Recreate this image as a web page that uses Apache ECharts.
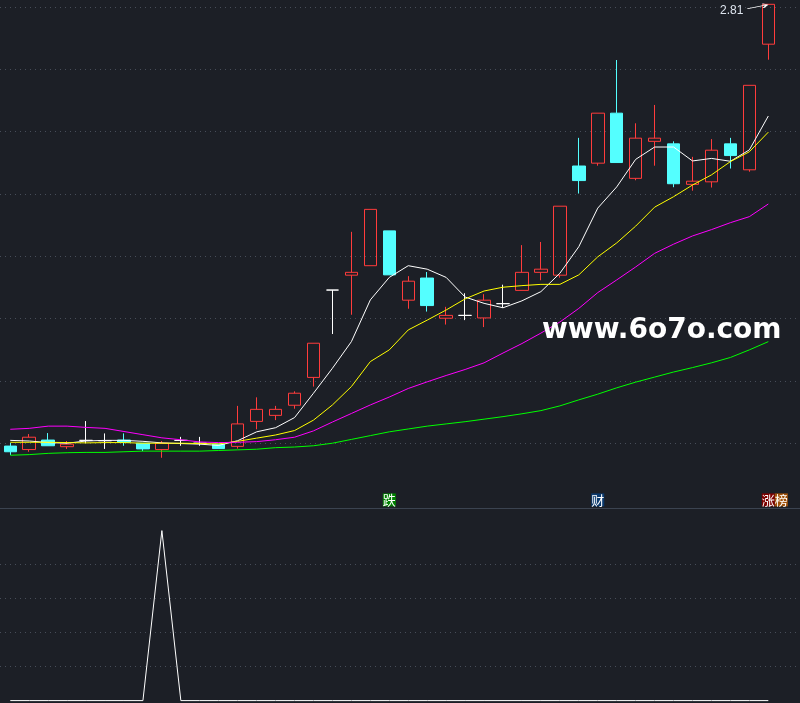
<!DOCTYPE html>
<html><head><meta charset="utf-8">
<script src="https://cdn.jsdelivr.net/npm/echarts@6/dist/echarts.min.js"></script>
<style>html,body{margin:0;padding:0;background:#1c1f26;}#c{width:800px;height:703px;}</style>
</head><body><div id="c"></div><script>
// ---- data ----
const days = ['1','2','3','4','5','6','7','8','9','10','11','12','13','14','15','16','17','18','19','20','21','22','23','24','25','26','27','28','29','30','31','32','33','34','35','36','37','38','39','40','41'];
const opens  = [1.414,1.403,1.433,1.412,1.432,1.431,1.433,1.423,1.403,1.432,1.423,1.420,1.413,1.492,1.511,1.543,1.631,1.907,1.954,1.984,2.094,1.875,1.945,1.818,1.827,1.819,1.864,1.906,1.963,1.954,2.299,2.308,2.466,2.260,2.377,2.369,2.241,2.249,2.369,2.287,2.684];
const closes = [1.396,1.442,1.415,1.420,1.432,1.431,1.426,1.405,1.423,1.432,1.423,1.406,1.484,1.530,1.530,1.581,1.739,1.907,1.963,2.162,1.955,1.935,1.858,1.827,1.827,1.875,1.864,1.963,1.973,2.172,2.253,2.466,2.310,2.387,2.387,2.243,2.251,2.349,2.332,2.554,2.810];
const lows   = [1.386,1.396,1.415,1.405,1.423,1.405,1.415,1.398,1.377,1.415,1.415,1.406,1.406,1.467,1.496,1.532,1.602,1.768,1.829,1.984,1.955,1.848,1.839,1.798,1.812,1.790,1.851,1.906,1.938,1.946,2.212,2.300,2.310,2.254,2.300,2.232,2.221,2.231,2.291,2.281,2.635];
const highs  = [1.424,1.452,1.455,1.430,1.493,1.454,1.454,1.423,1.430,1.443,1.443,1.420,1.541,1.568,1.541,1.587,1.739,1.907,2.091,2.162,2.094,1.951,1.964,1.854,1.897,1.894,1.924,2.049,2.059,2.172,2.388,2.466,2.634,2.434,2.492,2.377,2.328,2.384,2.388,2.554,2.810];
const ma5  = [1.432,1.430,1.425,1.423,1.430,1.432,1.432,1.429,1.424,1.422,1.420,1.416,1.431,1.459,1.472,1.504,1.581,1.660,1.744,1.876,1.947,1.984,1.973,1.947,1.885,1.865,1.851,1.873,1.902,1.960,2.044,2.166,2.233,2.320,2.359,2.359,2.315,2.323,2.314,2.350,2.457];
const ma10 = [1.426,1.426,1.426,1.425,1.424,1.425,1.425,1.423,1.423,1.423,1.422,1.421,1.429,1.439,1.449,1.463,1.496,1.544,1.602,1.681,1.718,1.781,1.812,1.844,1.879,1.904,1.916,1.921,1.925,1.925,1.955,2.012,2.056,2.109,2.169,2.202,2.239,2.271,2.313,2.344,2.406];
const ma20 = [1.467,1.470,1.477,1.477,1.473,1.470,1.460,1.450,1.440,1.434,1.427,1.425,1.426,1.428,1.434,1.442,1.462,1.490,1.517,1.544,1.569,1.596,1.617,1.637,1.656,1.677,1.708,1.738,1.771,1.806,1.849,1.899,1.939,1.980,2.023,2.052,2.078,2.098,2.120,2.139,2.179];
const ma60 = [1.385,1.387,1.391,1.393,1.394,1.394,1.396,1.398,1.398,1.398,1.398,1.400,1.402,1.404,1.409,1.411,1.415,1.423,1.435,1.447,1.459,1.468,1.477,1.484,1.491,1.499,1.507,1.516,1.526,1.541,1.560,1.578,1.598,1.616,1.632,1.648,1.662,1.677,1.694,1.718,1.744];
const indicator = [0,0,0,0,0,0,0,0,5,0,0,0,0,0,0,0,0,0,0,0,0,0,0,0,0,0,0,0,0,0,0,0,0,0,0,0,0,0,0,0,0];
const signals = ['','','','','','','','','','','','','','','','','','','','','跌','','','','','','','','','','','财','','','','','','','','','涨榜'];
const priceMin = 1.2265, priceMax = 2.8015;

// ---- styles ----
const BG = '#1c1f26';
const RED = '#ff3c3c', CYAN = '#54ffff';
const gridLine = {color:'#474d59', type:[1,4], width:1};
const signalStyle = {'跌':'{d|跌}', '财':'{c|财}', '涨榜':'{sp|榜}{z|涨}{b|榜}'};
const cjk = 'Noto Sans CJK SC';
const richBase = {color:'#ffffff', fontSize:13, lineHeight:13, height:13, fontFamily:cjk};

const candleData = opens.map((o, i) => {
  const item = {value:[o, closes[i], lows[i], highs[i]]};
  if (o === closes[i]) item.itemStyle = {borderColor:'#ffffff', borderColor0:'#ffffff', borderColorDoji:'#ffffff'};
  return item;
});
const maxIdx = highs.indexOf(Math.max.apply(null, highs));

const chart = echarts.init(document.getElementById('c'));
chart.setOption({
  backgroundColor: BG,
  animation: false,
  tooltip: {show:false},
  grid: [
    {left:0, right:0, top:7, height:498.4, outerBoundsMode:'none'},
    {left:0.8, width:777, top:7, height:498.4, outerBoundsMode:'none'},
    {left:0, right:0, top:530.6, height:170, outerBoundsMode:'none'},
    {left:0.8, width:777, top:530.6, height:170, outerBoundsMode:'none'}
  ],
  xAxis: [
    {gridIndex:0, type:'value', min:0, max:1, show:false},
    {gridIndex:1, type:'category', data:days, boundaryGap:true,
      axisLine:{show:false}, axisTick:{show:false}, splitLine:{show:false},
      axisLabel:{show:true, interval:0, inside:true, margin:-1, hideOverlap:false,
        formatter:(v, i) => signalStyle[signals[i]] || '',
        rich:{
          d:Object.assign({}, richBase, {backgroundColor:'#008000'}),
          c:Object.assign({}, richBase, {backgroundColor:'#0b3a6e'}),
          z:Object.assign({}, richBase, {backgroundColor:'#7d0000'}),
          b:Object.assign({}, richBase, {backgroundColor:'#a0520a'}),
          sp:Object.assign({}, richBase, {color:'rgba(0,0,0,0)'})
        }}},
    {gridIndex:2, type:'value', min:0, max:1, show:false},
    {gridIndex:3, type:'category', data:days, boundaryGap:true, show:false}
  ],
  yAxis: [
    {gridIndex:0, type:'value', min:0, max:8, interval:1, axisLine:{show:false}, axisTick:{show:false}, axisLabel:{show:false},
      splitLine:{show:true, showMinLine:false, showMaxLine:true, lineStyle:gridLine}},
    {gridIndex:1, type:'value', min:priceMin, max:priceMax, show:false, splitLine:{show:false}},
    {gridIndex:2, type:'value', min:0, max:5, interval:1, axisLine:{show:false}, axisTick:{show:false}, axisLabel:{show:false},
      splitLine:{show:true, showMinLine:false, showMaxLine:false, lineStyle:gridLine}},
    {gridIndex:3, type:'value', min:0, max:5, show:false, splitLine:{show:false}}
  ],
  series: [
    {type:'candlestick', xAxisIndex:1, yAxisIndex:1, data:candleData, barWidth:13, clip:false, silent:true,
      itemStyle:{color:'rgba(0,0,0,0)', color0:CYAN, borderColor:RED, borderColor0:CYAN, borderWidth:1}},
    {type:'line', xAxisIndex:1, yAxisIndex:1, data:ma5,  symbol:'none', silent:true, lineStyle:{color:'#ffffff', width:1}},
    {type:'line', xAxisIndex:1, yAxisIndex:1, data:ma10, symbol:'none', silent:true, lineStyle:{color:'#ffff00', width:1}},
    {type:'line', xAxisIndex:1, yAxisIndex:1, data:ma20, symbol:'none', silent:true, lineStyle:{color:'#ff00ff', width:1}},
    {type:'line', xAxisIndex:1, yAxisIndex:1, data:ma60, symbol:'none', silent:true, lineStyle:{color:'#00ff00', width:1}},
    {type:'scatter', xAxisIndex:1, yAxisIndex:1, silent:true, clip:false, z:5,
      data:[[days[maxIdx], highs[maxIdx]]],
      symbol:'path://M0,5L20,1M15,0L20,1L16,4',
      symbolSize:[20,5], symbolOffset:[-11,2], symbolKeepAspect:false,
      itemStyle:{color:'rgba(0,0,0,0)', borderColor:'#ffffff', borderWidth:1, opacity:1},
      label:{show:true, position:'left', distance:3, offset:[0,4.5], color:'#dde4ee', fontSize:12,
        fontFamily:'Liberation Sans', formatter:p => Number(p.value[1]).toFixed(2)}},
    {type:'line', xAxisIndex:3, yAxisIndex:3, data:indicator, symbol:'none', silent:true, clip:false, lineStyle:{color:'#ffffff', width:1}}
  ],
  graphic: [
    {type:'line', silent:true, shape:{x1:0, y1:508.5, x2:800, y2:508.5}, style:{stroke:'#3b4350', lineWidth:1}},
    {type:'text', silent:true, z:100, x:542, y:331,
      style:{text:'www.6o7o.com', font:'bold 28px "DejaVu Sans"', fill:'#ffffff', align:'left', verticalAlign:'middle'}}
  ]
});
</script></body></html>
